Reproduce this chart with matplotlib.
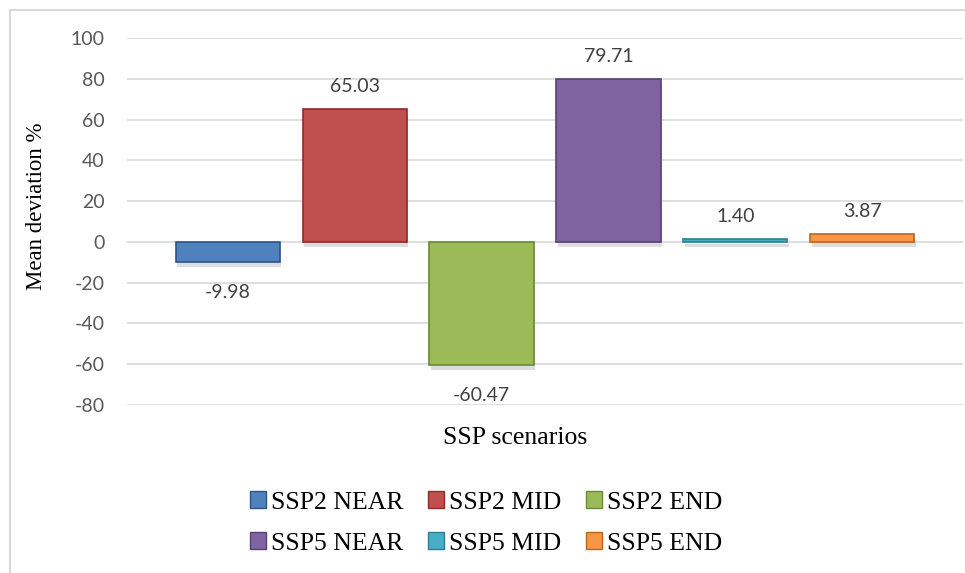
import matplotlib
matplotlib.use("Agg")
import matplotlib.pyplot as plt
import matplotlib.patches as mpatches
import matplotlib.patheffects as pe
from matplotlib.lines import Line2D

# data
scenarios = ["SSP2 NEAR", "SSP2 MID", "SSP2 END", "SSP5 NEAR", "SSP5 MID", "SSP5 END"]
deviation = [-9.98, 65.03, -60.47, 79.71, 1.40, 3.87]
colors = ["#4F81BD", "#C0504D", "#9BBB59", "#8064A2", "#4BACC6", "#F79646"]
edges = ["#2C5487", "#8C2D2A", "#6A8A32", "#563F77", "#2A7F96", "#B8661E"]
yticks = [-80, -60, -40, -20, 0, 20, 40, 60, 80, 100]

W, H = 965, 573
fig = plt.figure(figsize=(W / 100, H / 100), dpi=100)
ax = fig.add_axes([127 / W, 1 - 405 / H, (963 - 127) / W, (405 - 38) / H])

# chart area border (left + top visible)
fig.add_artist(Line2D([10 / W, 10 / W], [0, 1 - 10 / H], color="#D9D9D9", lw=1.5))
fig.add_artist(Line2D([10 / W, 1], [1 - 10 / H, 1 - 10 / H], color="#D9D9D9", lw=1.5))

x = list(range(len(scenarios)))
shadow = [pe.SimplePatchShadow(offset=(1, -3.5), shadow_rgbFace="#909090", alpha=0.3), pe.Normal()]
bars = ax.bar(x, deviation, width=0.82, color=colors, edgecolor=edges, linewidth=1.2, zorder=3)
for b in bars:
    b.set_path_effects(shadow)

# value labels
for xi, v in zip(x, deviation):
    if v >= 0:
        ax.annotate(f"{v:.2f}", (xi, v), xytext=(0, 10), textcoords="offset points",
                    ha="center", va="bottom", fontsize=14, color="#404040", family="Lato")
    else:
        ax.annotate(f"{v:.2f}", (xi, v), xytext=(0, -16), textcoords="offset points",
                    ha="center", va="top", fontsize=14, color="#404040", family="Lato")

ax.set_xlim(-0.793, 5.793)
ax.set_ylim(-80, 100)
ax.set_yticks(yticks)
ax.set_yticklabels([str(t) for t in yticks], fontsize=14, color="#595959", family="Lato")
ax.set_xticks([])
ax.tick_params(axis="y", length=0, pad=16)
ax.grid(axis="y", color="#D9D9D9", linewidth=1.2, zorder=0)
ax.set_axisbelow(True)
for s in ax.spines.values():
    s.set_visible(False)

ax.set_ylabel("Mean deviation %", fontsize=16.5, family="Liberation Serif")
ax.yaxis.set_label_coords((47 - 127) / (963 - 127), (405 - 206) / (405 - 38))

fig.text(515 / W, 1 - 438 / H, "SSP scenarios", ha="center", va="center",
         fontsize=18.5, family="Liberation Serif")

handles = [mpatches.Patch(facecolor=c, edgecolor=e, label=l) for c, e, l in zip(colors, edges, scenarios)]
order = [0, 3, 1, 4, 2, 5]
leg = fig.legend([handles[i] for i in order], [scenarios[i] for i in order],
                 ncol=3, loc="center", bbox_to_anchor=(486 / W, 1 - 523 / H),
                 frameon=False, prop={"family": "Liberation Serif", "size": 18.5},
                 handlelength=0.62, handleheight=0.62, handletextpad=0.2,
                 columnspacing=0.95, labelspacing=0.72)

fig.savefig("out.png", dpi=100)
